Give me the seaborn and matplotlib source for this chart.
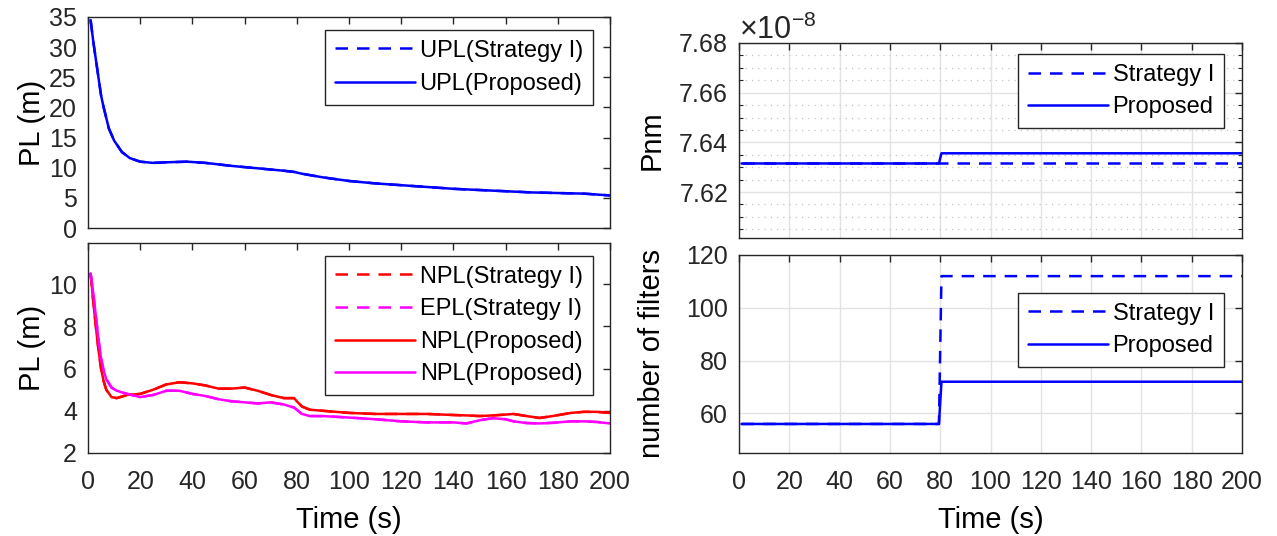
import matplotlib
matplotlib.use("Agg")
import matplotlib.pyplot as plt
import seaborn as sns
from matplotlib.ticker import MultipleLocator, ScalarFormatter, FixedLocator

# ---- Protection level, vertical (UPL) ----
t_upl = [1, 2, 3, 4, 5, 6, 8, 10, 13, 16, 20, 25, 30, 38, 45, 55, 65, 75, 79,
         82, 86, 90, 100, 110, 120, 130, 140, 150, 160, 170, 180, 190, 200]
upl_proposed = [34.5, 31.0, 28.0, 25.0, 22.0, 20.0, 16.5, 14.5, 12.6, 11.6, 11.0,
                10.8, 10.9, 11.0, 10.8, 10.3, 9.9, 9.5, 9.3, 9.0, 8.7, 8.4, 7.8,
                7.4, 7.1, 6.8, 6.5, 6.3, 6.1, 5.9, 5.8, 5.7, 5.4]
upl_strategy = [34.5, 31.0, 28.0, 25.0, 22.0, 20.0, 16.5, 14.5, 12.6, 11.6, 11.0,
                10.8, 10.9, 11.0, 10.8, 10.3, 9.9, 9.5, 9.3, 9.0, 8.7, 8.4, 7.8,
                7.4, 7.1, 6.8, 6.5, 6.3, 6.1, 5.9, 5.8, 5.7, 5.4]

# ---- Protection level, horizontal (NPL / EPL) ----
t_hpl = [1, 2, 3, 4, 5, 6, 7, 9, 11, 15, 20, 25, 30, 35, 40, 45, 50, 55, 60, 65,
         70, 75, 79, 80, 82, 85, 90, 100, 110, 120, 130, 140, 145, 150, 155, 160,
         163, 168, 173, 178, 185, 190, 195, 200]
npl_proposed = [10.5, 9.2, 8.0, 6.9, 6.0, 5.4, 5.0, 4.65, 4.6, 4.75, 4.8, 5.0,
                5.25, 5.35, 5.3, 5.2, 5.05, 5.05, 5.1, 4.95, 4.75, 4.6, 4.6, 4.45,
                4.2, 4.05, 4.0, 3.9, 3.85, 3.85, 3.85, 3.8, 3.78, 3.75, 3.78, 3.82,
                3.85, 3.75, 3.66, 3.75, 3.9, 3.95, 3.95, 3.9]
epl_proposed = [10.5, 9.6, 8.5, 7.4, 6.5, 5.9, 5.5, 5.1, 4.95, 4.8, 4.65, 4.75,
                4.95, 4.95, 4.8, 4.7, 4.55, 4.45, 4.4, 4.35, 4.4, 4.3, 4.15, 4.05,
                3.85, 3.75, 3.75, 3.68, 3.6, 3.5, 3.45, 3.45, 3.4, 3.55, 3.65, 3.6,
                3.5, 3.42, 3.4, 3.43, 3.5, 3.5, 3.47, 3.4]
npl_strategy = list(npl_proposed)
epl_strategy = list(epl_proposed)

# ---- Pnm ----
t_pnm = [1, 79.5, 80.5, 200]
pnm_strategy = [7.6315e-8, 7.6315e-8, 7.6315e-8, 7.6315e-8]
pnm_proposed = [7.6315e-8, 7.6315e-8, 7.6356e-8, 7.6356e-8]
pnm_ticks = [7.62e-8, 7.64e-8, 7.66e-8, 7.68e-8]

# ---- Number of filters ----
t_nf = [1, 79.5, 80.5, 200]
nf_strategy = [56, 56, 112, 112]
nf_proposed = [56, 56, 72, 72]

BLUE = "#0000ff"
RED = "#ff0000"
MAG = "#ff00ff"
DARK = "#262626"
LW = 1.8
DASH = (5.0, 3.6)
TICK_FS = 18
LEG_FS = 17
LAB_FS = 21

sns.set_theme(style="white")
plt.rcParams["font.family"] = ["Liberation Sans", "DejaVu Sans"]
plt.rcParams["axes.unicode_minus"] = False
plt.rcParams["mathtext.fontset"] = "custom"
plt.rcParams["mathtext.rm"] = "Liberation Sans"
plt.rcParams["mathtext.it"] = "Liberation Sans"

W, H = 1277, 536
fig = plt.figure(figsize=(W / 100, H / 100), dpi=100)


def box(x0, y0, x1, y1):
    return [x0 / W, 1 - y1 / H, (x1 - x0) / W, (y1 - y0) / H]


ax_upl = fig.add_axes(box(88, 17, 610, 228))
ax_hpl = fig.add_axes(box(88, 243, 610, 453))
ax_pnm = fig.add_axes(box(739, 43, 1242, 238))
ax_nf = fig.add_axes(box(739, 255, 1242, 453))


def style(ax, ylabel, ylab_px, grid=False, xlabels=True):
    pos = ax.get_position()
    ax.set_xlim(0, 200)
    ax.xaxis.set_major_locator(MultipleLocator(20))
    ax.tick_params(which="major", direction="in", length=5, width=1,
                   top=True, right=True, labelsize=TICK_FS, colors=DARK)
    ax.tick_params(axis="x", which="major", pad=12)
    ax.tick_params(axis="y", which="major", pad=8)
    ax.tick_params(which="minor", direction="in", length=3, width=0.8,
                   top=False, right=True, left=True, bottom=False)
    for s in ax.spines.values():
        s.set_color(DARK)
        s.set_linewidth(1.0)
    if grid:
        ax.grid(True, which="major", color="#e3e3e3", linewidth=1.0)
        ax.set_axisbelow(True)
    ax.set_ylabel(ylabel, fontsize=LAB_FS, color="black")
    ax.yaxis.set_label_coords((ylab_px - pos.x0 * W) / (pos.width * W), 0.5)
    ax.yaxis.label.set_va("center")
    if not xlabels:
        ax.tick_params(labelbottom=False)
    else:
        ax.set_xlabel("Time (s)", fontsize=LAB_FS, color="black")
        ax.xaxis.set_label_coords(0.5, -(520 - 453) / (pos.height * H))
        ax.xaxis.label.set_va("center")


def legend(ax, anchor, labelspacing=0.45):
    leg = ax.legend(loc="upper right", bbox_to_anchor=anchor, borderaxespad=0,
                    fontsize=LEG_FS, frameon=True, fancybox=False, framealpha=1,
                    edgecolor=DARK, handlelength=3.4, handletextpad=0.2,
                    labelspacing=labelspacing, borderpad=0.42)
    leg.get_frame().set_linewidth(1.0)
    for txt in leg.get_texts():
        txt.set_color("black")
    return leg


# Top-left: UPL
sns.lineplot(x=t_upl, y=upl_strategy, ax=ax_upl, color=BLUE, lw=LW,
             label="UPL(Strategy I)", sort=False)
ax_upl.lines[-1].set_dashes(DASH)
sns.lineplot(x=t_upl, y=upl_proposed, ax=ax_upl, color=BLUE, lw=LW,
             label="UPL(Proposed)", sort=False)
ax_upl.set_ylim(0, 35)
ax_upl.yaxis.set_major_locator(FixedLocator([0, 5, 10, 15, 20, 25, 30, 35]))
style(ax_upl, "PL (m)", 32, xlabels=False)
legend(ax_upl, (0.967, 0.94), labelspacing=0.5)

# Bottom-left: NPL / EPL
sns.lineplot(x=t_hpl, y=npl_strategy, ax=ax_hpl, color=RED, lw=LW,
             label="NPL(Strategy I)", sort=False)
ax_hpl.lines[-1].set_dashes(DASH)
sns.lineplot(x=t_hpl, y=epl_strategy, ax=ax_hpl, color=MAG, lw=LW,
             label="EPL(Strategy I)", sort=False)
ax_hpl.lines[-1].set_dashes(DASH)
sns.lineplot(x=t_hpl, y=npl_proposed, ax=ax_hpl, color=RED, lw=LW,
             label="NPL(Proposed)", sort=False)
sns.lineplot(x=t_hpl, y=epl_proposed, ax=ax_hpl, color=MAG, lw=LW,
             label="NPL(Proposed)", sort=False)
ax_hpl.set_ylim(2, 11.95)
ax_hpl.yaxis.set_major_locator(FixedLocator([2, 4, 6, 8, 10]))
style(ax_hpl, "PL (m)", 32)
legend(ax_hpl, (0.967, 0.94))

# Top-right: Pnm
sns.lineplot(x=t_pnm, y=pnm_strategy, ax=ax_pnm, color=BLUE, lw=LW,
             label="Strategy I", sort=False)
ax_pnm.lines[-1].set_dashes(DASH)
sns.lineplot(x=t_pnm, y=pnm_proposed, ax=ax_pnm, color=BLUE, lw=LW,
             label="Proposed", sort=False)
ax_pnm.set_ylim(7.6015e-8, 7.68e-8)
ax_pnm.yaxis.set_major_locator(FixedLocator(pnm_ticks))
ax_pnm.yaxis.set_minor_locator(MultipleLocator(0.005e-8))
fmt = ScalarFormatter(useMathText=True)
fmt.set_powerlimits((-8, -8))
fmt.set_useOffset(False)
ax_pnm.yaxis.set_major_formatter(fmt)
ax_pnm.grid(True, which="minor", axis="y", color="#c4c4c4", linewidth=0.9,
            linestyle=(0, (1, 4)))
style(ax_pnm, "Pnm", 652, grid=True, xlabels=False)
legend(ax_pnm, (0.964, 0.944))

# Bottom-right: number of filters
sns.lineplot(x=t_nf, y=nf_strategy, ax=ax_nf, color=BLUE, lw=LW,
             label="Strategy I", sort=False)
ax_nf.lines[-1].set_dashes(DASH)
sns.lineplot(x=t_nf, y=nf_proposed, ax=ax_nf, color=BLUE, lw=LW,
             label="Proposed", sort=False)
ax_nf.set_ylim(45, 120)
ax_nf.yaxis.set_major_locator(FixedLocator([60, 80, 100, 120]))
style(ax_nf, "number of filters", 652, grid=True)
legend(ax_nf, (0.964, 0.81))

# Exponent label above the Pnm axis, drawn larger than the default offset text
fig.canvas.draw()
off = ax_pnm.yaxis.get_offset_text()
off.set_fontsize(22)
off.set_color(DARK)

fig.savefig("out.png", dpi=100)
